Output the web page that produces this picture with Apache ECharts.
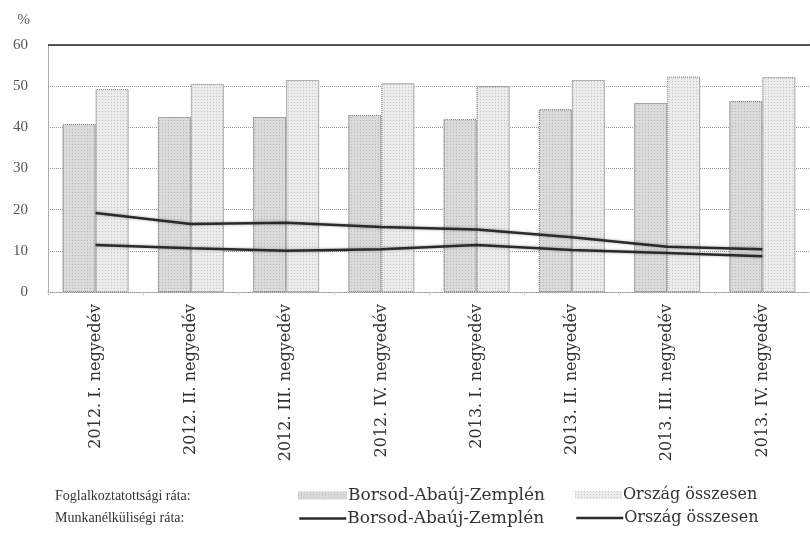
<!DOCTYPE html>
<html>
<head>
<meta charset="utf-8">
<script src="https://cdn.jsdelivr.net/npm/echarts@6/dist/echarts.min.js"></script>
<style>
html,body{margin:0;padding:0;background:#fff;}
#c{width:810px;height:535px;}
</style>
</head>
<body>
<div id="c"></div>
<script>
const categories = ['2012. I. negyedév', '2012. II. negyedév', '2012. III. negyedév', '2012. IV. negyedév',
  '2013. I. negyedév', '2013. II. negyedév', '2013. III. negyedév', '2013. IV. negyedév'];
const employBAZ = [40.8, 42.5, 42.5, 43.0, 42.0, 44.4, 45.9, 46.4];
const employHU = [49.3, 50.5, 51.5, 50.7, 50.0, 51.5, 52.3, 52.2];
const unempBAZ = [19.2, 16.5, 16.8, 15.8, 15.2, 13.3, 11.0, 10.4];
const unempHU = [11.4, 10.6, 10.0, 10.4, 11.4, 10.2, 9.5, 8.7];
const yTicks = [0, 10, 20, 30, 40, 50, 60];

const FONT = '"Liberation Serif", "DejaVu Serif", serif';
const WIDE = '"DejaVu Serif", "Liberation Serif", serif';
const names = {
  eB: 'Foglalkoztatottsági ráta: Borsod-Abaúj-Zemplén',
  eH: 'Foglalkoztatottsági ráta: Ország összesen',
  uB: 'Munkanélküliségi ráta: Borsod-Abaúj-Zemplén',
  uH: 'Munkanélküliségi ráta: Ország összesen'
};
const shortName = n => n.split(': ')[1];

function legendAt(name, left, top, w, h, isLine, fs) {
  const l = {
    data: [name], left: left, top: top, itemWidth: w, itemHeight: h, itemGap: 0,
    padding: 0, selectedMode: false, formatter: shortName,
    textStyle: {fontFamily: WIDE, fontSize: fs, color: '#333', padding: [0, 0, 0, -4]}
  };
  if (isLine) {
    l.itemStyle = {opacity: 0};
    l.lineStyle = {width: 2.5, color: '#2a2a2a'};
  } else {
    l.icon = 'rect';
    l.itemStyle = {borderWidth: 0};
  }
  return l;
}

const stipple = {
  symbol: 'rect', symbolSize: 1,
  dashArrayX: [1, 2], dashArrayY: [1, 2],
  color: 'rgba(70,70,70,0.22)'
};

const chart = echarts.init(document.getElementById('c'));
chart.setOption({
  animation: false,
  backgroundColor: '#fff',
  grid: {left: 48, width: 768, top: 45, bottom: 243, containLabel: false},
  xAxis: {
    type: 'category', data: categories,
    axisLine: {lineStyle: {color: '#999', type: 'dotted'}},
    axisTick: {show: true, length: 4, lineStyle: {color: '#aaa', type: 'dotted'}},
    axisLabel: {rotate: 90, interval: 0, margin: 12, fontFamily: WIDE, fontSize: 16, color: '#333'}
  },
  yAxis: {
    type: 'value', min: 0, max: 60, interval: 10,
    name: '%', nameLocation: 'end', nameGap: 17,
    nameTextStyle: {fontFamily: FONT, fontSize: 15, color: '#555', align: 'right', padding: [0, 18, 0, 0]},
    axisLine: {show: true, lineStyle: {color: '#999', type: 'dotted'}},
    axisTick: {show: false},
    axisLabel: {margin: 20, fontFamily: FONT, fontSize: 15, color: '#555',
      formatter: v => yTicks.indexOf(v) >= 0 ? String(v) : ''},
    splitLine: {show: true, lineStyle: {color: '#999', type: 'dotted', width: 1}}
  },
  legend: [
    legendAt(names.eB, 298, 487, 49, 8, false, 17),
    legendAt(names.eH, 575, 487, 47, 8, false, 16),
    legendAt(names.uB, 298, 510, 47, 12, true, 17),
    legendAt(names.uH, 575, 510, 47, 12, true, 16)
  ],
  graphic: [
    {type: 'text', left: 55, top: 489, style: {text: 'Foglalkoztatottsági ráta:', font: '14px ' + FONT, fill: '#333'}},
    {type: 'text', left: 55, top: 511, style: {text: 'Munkanélküliségi ráta:', font: '14px ' + FONT, fill: '#333'}}
  ],
  series: [
    {
      name: names.eB, type: 'bar', data: employBAZ, barWidth: 33, barGap: '0%',
      itemStyle: {color: '#dadada', borderColor: '#888', borderWidth: 1, borderType: 'dotted', decal: stipple},
      markLine: {
        silent: true, symbol: 'none', label: {show: false},
        lineStyle: {color: '#222', type: 'solid', width: 1.5},
        data: [{yAxis: 60}]
      }
    },
    {
      name: names.eH, type: 'bar', data: employHU, barWidth: 33,
      itemStyle: {color: '#ebebeb', borderColor: '#999', borderWidth: 1, borderType: 'dotted', decal: stipple}
    },
    {
      name: names.uB, type: 'line', data: unempBAZ, symbol: 'none',
      itemStyle: {color: '#2a2a2a'},
      lineStyle: {color: '#2a2a2a', width: 2.5, shadowColor: 'rgba(0,0,0,0.35)', shadowBlur: 3}
    },
    {
      name: names.uH, type: 'line', data: unempHU, symbol: 'none',
      itemStyle: {color: '#2a2a2a'},
      lineStyle: {color: '#2a2a2a', width: 2.5, shadowColor: 'rgba(0,0,0,0.35)', shadowBlur: 3}
    }
  ]
});
</script>
</body>
</html>
